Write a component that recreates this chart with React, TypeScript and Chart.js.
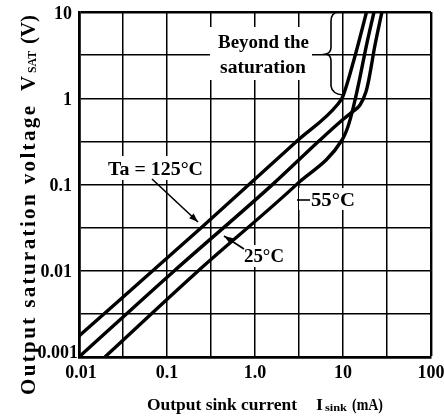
import React, { useEffect, useRef } from 'react';
import { Chart, registerables } from 'chart.js';

Chart.register(...registerables);

// Grid (decades and half-decades)
const xGridValues = [0.01, 0.0316, 0.1, 0.316, 1, 3.16, 10, 31.6, 100];
const yGridValues = [0.001, 0.00316, 0.01, 0.0316, 0.1, 0.316, 1, 3.16, 10];

// Tick labels
const xTickValues = [0.01, 0.1, 1, 10, 100];
const xTickLabels = ['0.01', '0.1', '1.0', '10', '100'];
const yTickValues = [0.001, 0.01, 0.1, 1, 10];
const yTickLabels = ['0.001', '0.01', '0.1', '1', '10'];

// Ta = 125 °C
const curve125I = [0.01, 0.25, 3.0, 8.77, 10.0, 11.1, 12.0, 14.8, 18.5];
const curve125V = [0.00175, 0.0321, 0.319, 0.857, 1.06, 1.46, 1.91, 4.14, 10];

// middle curve
const curveMidI = [0.01, 0.117, 1.6, 5.48, 9.25, 12.65, 15.6, 18.2, 19.7, 23.1, 27.7];
const curveMidV = [0.001, 0.00968, 0.101, 0.328, 0.531, 0.69, 0.835, 1.18, 1.67, 4.14, 10];

// lower curve
const curveLowI = [0.0197, 0.219, 3.0, 9.75, 11.4, 12.65, 14.0, 15.5, 18.5, 22.5];
const curveLowV = [0.001, 0.00968, 0.101, 0.328, 0.47, 0.68, 1.05, 1.7, 4.14, 10];

const FONT = '"Liberation Serif", "Times New Roman", serif';

function toPoints(xs: number[], ys: number[]) {
  return xs.map((x, i) => ({ x, y: ys[i] }));
}

function fitText(ctx: CanvasRenderingContext2D, text: string, x: number, y: number, w: number) {
  const m = ctx.measureText(text).width;
  ctx.save();
  ctx.translate(x, y);
  ctx.scale(w / m, 1);
  ctx.textAlign = 'left';
  ctx.fillText(text, 0, 0);
  ctx.restore();
}

function arrow(ctx: CanvasRenderingContext2D, x1: number, y1: number, x2: number, y2: number) {
  ctx.beginPath();
  ctx.moveTo(x1, y1);
  ctx.lineTo(x2, y2);
  ctx.stroke();
  const a = Math.atan2(y2 - y1, x2 - x1);
  const L = 9, W = 3.2;
  ctx.beginPath();
  ctx.moveTo(x2, y2);
  ctx.lineTo(x2 - L * Math.cos(a) + W * Math.sin(a), y2 - L * Math.sin(a) - W * Math.cos(a));
  ctx.lineTo(x2 - L * Math.cos(a) - W * Math.sin(a), y2 - L * Math.sin(a) + W * Math.cos(a));
  ctx.closePath();
  ctx.fill();
}

const annotPlugin = {
  id: 'annot',
  afterDatasetsDraw(chart: any) {
    const ctx: CanvasRenderingContext2D = chart.ctx;
    ctx.save();
    ctx.fillStyle = '#000';
    ctx.strokeStyle = '#000';
    ctx.textBaseline = 'alphabetic';

    // Beyond the saturation
    ctx.fillStyle = '#fff';
    ctx.fillRect(210, 27, 102, 53);
    ctx.fillStyle = '#000';
    ctx.font = `bold 18px ${FONT}`;
    fitText(ctx, 'Beyond the', 218, 48, 91);
    fitText(ctx, 'saturation', 220, 73, 86);

    // brace
    ctx.lineWidth = 1.6;
    ctx.beginPath();
    ctx.moveTo(338, 12);
    ctx.quadraticCurveTo(331, 13, 331, 21);
    ctx.lineTo(331, 47);
    ctx.quadraticCurveTo(331, 53, 326, 54);
    ctx.quadraticCurveTo(331, 55, 331, 61);
    ctx.lineTo(331, 86);
    ctx.quadraticCurveTo(332, 94, 343, 95);
    ctx.stroke();

    // Ta = 125°C
    ctx.fillStyle = '#fff';
    ctx.fillRect(105, 156, 102, 24);
    ctx.fillStyle = '#000';
    ctx.font = `bold 18px ${FONT}`;
    fitText(ctx, 'Ta = 125°C', 108, 175, 95);
    ctx.lineWidth = 1.6;
    arrow(ctx, 152, 179, 198, 222);

    // 25°C
    ctx.fillStyle = '#fff';
    ctx.fillRect(243, 245, 44, 22);
    ctx.fillStyle = '#000';
    fitText(ctx, '25°C', 244, 262, 40);
    arrow(ctx, 244, 249, 224, 236);

    // -55°C
    ctx.fillStyle = '#fff';
    ctx.fillRect(299, 188, 58, 22);
    ctx.fillStyle = '#000';
    ctx.lineWidth = 1.6;
    ctx.beginPath();
    ctx.moveTo(297, 200);
    ctx.lineTo(310, 200);
    ctx.stroke();
    fitText(ctx, '55°C', 311, 206, 44);

    ctx.restore();
  },
  afterDraw(chart: any) {
    const ctx: CanvasRenderingContext2D = chart.ctx;
    const xs = chart.scales.x;
    const ys = chart.scales.y;
    const area = chart.chartArea;
    ctx.save();
    ctx.fillStyle = '#000';

    // tick labels
    ctx.font = `bold 18px ${FONT}`;
    ctx.textBaseline = 'middle';
    ctx.textAlign = 'center';
    xTickValues.forEach((v, i) => {
      ctx.fillText(xTickLabels[i], xs.getPixelForValue(v) + (i === 0 ? 2 : 0), area.bottom + 16);
    });
    ctx.textAlign = 'right';
    yTickValues.forEach((v, i) => {
      const py = ys.getPixelForValue(v);
      if (i === 0) ctx.fillText(yTickLabels[i], area.left - 1, py - 4);
      else ctx.fillText(yTickLabels[i], area.left - 7, py + 2);
    });

    // x title
    ctx.textBaseline = 'alphabetic';
    ctx.textAlign = 'left';
    ctx.font = `bold 17px ${FONT}`;
    fitText(ctx, 'Output sink current', 147, 410, 150);
    fitText(ctx, 'I', 316, 410, 7);
    ctx.font = `bold 11px ${FONT}`;
    fitText(ctx, 'sink', 325, 411, 22);
    ctx.font = `bold 17px ${FONT}`;
    fitText(ctx, '(mA)', 352, 410, 31);

    // y title (rotated)
    ctx.save();
    ctx.translate(35, 0);
    ctx.rotate(-Math.PI / 2);
    ctx.font = `bold 21px ${FONT}`;
    const t1 = 'Output saturation voltage';
    const w1 = ctx.measureText(t1).width;
    const target = 289;
    const anyCtx = ctx as any;
    if ('letterSpacing' in anyCtx) {
      anyCtx.letterSpacing = `${(target - w1) / (t1.length - 1)}px`;
      ctx.fillText(t1, -395, 0);
      anyCtx.letterSpacing = '0px';
    } else {
      fitText(ctx, t1, -395, 0, target);
    }
    fitText(ctx, 'V', -91, 0, 15);
    ctx.font = `bold 12px ${FONT}`;
    fitText(ctx, 'SAT', -73, 1, 22);
    ctx.font = `bold 21px ${FONT}`;
    fitText(ctx, '(V)', -44, 0, 29);
    ctx.restore();

    ctx.restore();
  },
};

export default function App() {
  const ref = useRef<HTMLCanvasElement | null>(null);

  useEffect(() => {
    if (!ref.current) return;
    const ds = (xs: number[], ys: number[]) => ({
      data: toPoints(xs, ys),
      borderColor: '#000',
      borderWidth: 3.4,
      pointRadius: 0,
      fill: false,
      cubicInterpolationMode: 'monotone' as const,
    });
    const chart = new Chart(ref.current, {
      type: 'line',
      data: {
        datasets: [
          ds(curve125I, curve125V),
          ds(curveMidI, curveMidV),
          ds(curveLowI, curveLowV),
        ],
      },
      options: {
        responsive: false,
        animation: false,
        parsing: true,
        layout: { padding: { top: 12, right: 13, left: 0, bottom: 0 } },
        plugins: { legend: { display: false }, tooltip: { enabled: false } },
        scales: {
          x: {
            type: 'logarithmic',
            min: 0.01,
            max: 100,
            afterBuildTicks: (s: any) => {
              s.ticks = xGridValues.map((v) => ({ value: v }));
            },
            afterFit: (s: any) => {
              s.height = 59;
            },
            ticks: { display: false },
            grid: {
              color: '#000',
              lineWidth: (c: any) => (c.tick && c.tick.value === 100 ? 2.4 : 1.5),
              drawTicks: false,
            },
            border: { color: '#000', width: 2.8 },
          },
          y: {
            type: 'logarithmic',
            min: 0.001,
            max: 10,
            afterBuildTicks: (s: any) => {
              s.ticks = yGridValues.map((v) => ({ value: v }));
            },
            afterFit: (s: any) => {
              s.width = 79;
            },
            ticks: { display: false },
            grid: {
              color: '#000',
              lineWidth: (c: any) => (c.tick && c.tick.value === 10 ? 2.6 : 1.5),
              drawTicks: false,
            },
            border: { color: '#000', width: 2.8 },
          },
        },
      },
      plugins: [annotPlugin],
    });
    return () => chart.destroy();
  }, []);

  return (
    <div style={{ position: 'absolute', left: 0, top: 0, width: 444, height: 416, background: '#fff' }}>
      <canvas ref={ref} width={444} height={416} style={{ display: 'block', width: 444, height: 416 }} />
    </div>
  );
}
